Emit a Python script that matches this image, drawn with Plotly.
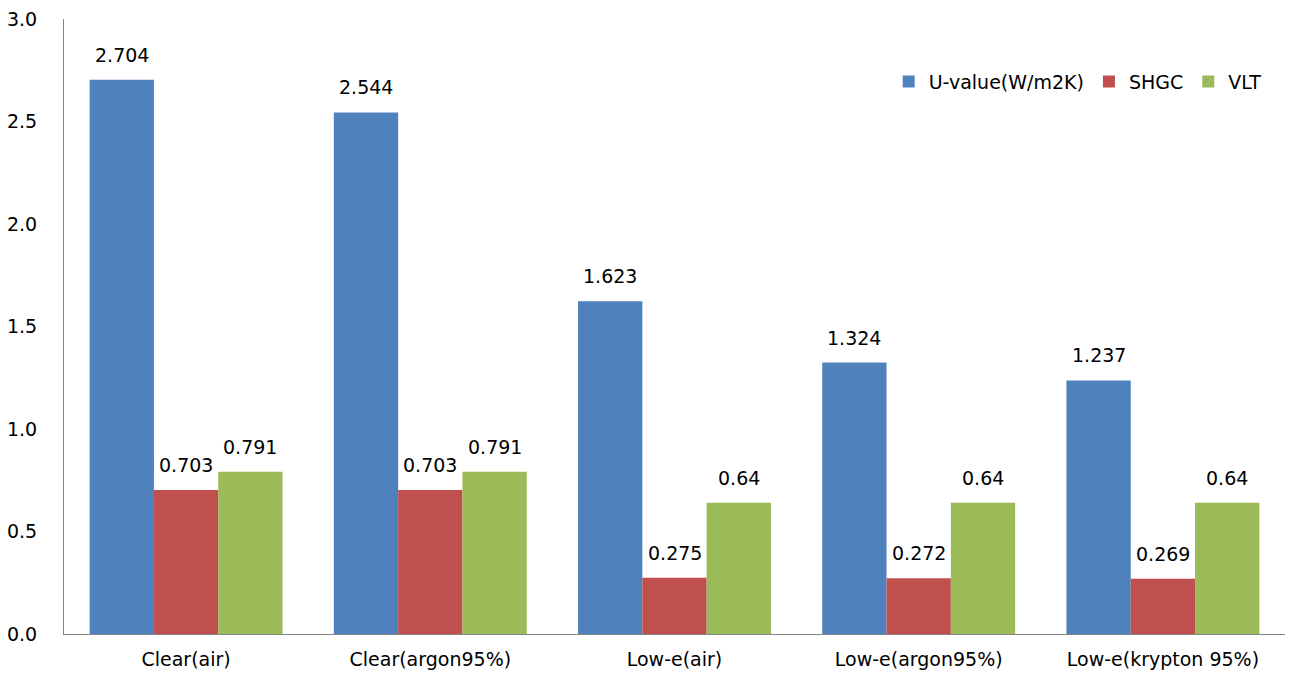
import plotly.graph_objects as go

categories = ["Clear(air)", "Clear(argon95%)", "Low-e(air)", "Low-e(argon95%)", "Low-e(krypton 95%)"]
u_value = [2.704, 2.544, 1.623, 1.324, 1.237]
shgc = [0.703, 0.703, 0.275, 0.272, 0.269]
vlt = [0.791, 0.791, 0.64, 0.64, 0.64]

series = [
    ("U-value(W/m2K)", u_value, "#4F81BD"),
    ("SHGC", shgc, "#C0504D"),
    ("VLT", vlt, "#9BBB59"),
]

font_family = "DejaVu Sans, sans-serif"
bargap = 0.21

fig = go.Figure()
for name, vals, color in series:
    fig.add_trace(go.Bar(
        name=name, x=categories, y=vals,
        marker=dict(color=color, line=dict(width=0)),
    ))

# value labels above each bar (offset within the group follows bargap)
bar_w = (1 - bargap) / len(series)
annotations = []
for k, (name, vals, color) in enumerate(series):
    off = (k - (len(series) - 1) / 2) * bar_w
    for i, v in enumerate(vals):
        annotations.append(dict(
            x=i + off, y=v, xref="x", yref="y", text=str(v),
            showarrow=False, yanchor="bottom", yshift=12,
            font=dict(size=19, color="#000000", family=font_family),
        ))

fig.update_layout(
    width=1289, height=675,
    barmode="group", bargap=bargap, bargroupgap=0,
    plot_bgcolor="white", paper_bgcolor="white",
    margin=dict(l=64, r=4, t=19, b=41),
    font=dict(family=font_family, size=19, color="#000000"),
    showlegend=True,
    legend=dict(
        orientation="h", x=0.985, xanchor="right", y=0.898, yanchor="middle",
        font=dict(size=19), itemwidth=30, traceorder="normal",
    ),
    annotations=annotations,
)
fig.update_yaxes(
    range=[0, 3], dtick=0.5, tickformat=".1f", showgrid=False,
    showline=True, linecolor="#868686", linewidth=1, ticks="",
    zeroline=False, ticklabelstandoff=22, automargin=False,
)
fig.update_xaxes(
    showline=True, linecolor="#868686", linewidth=1, ticks="", showgrid=False,
    ticklabelstandoff=8, automargin=False,
)

fig.write_html(
    "out.html",
    config={"displayModeBar": False},
    post_script="document.body.style.margin='0px';",
)
